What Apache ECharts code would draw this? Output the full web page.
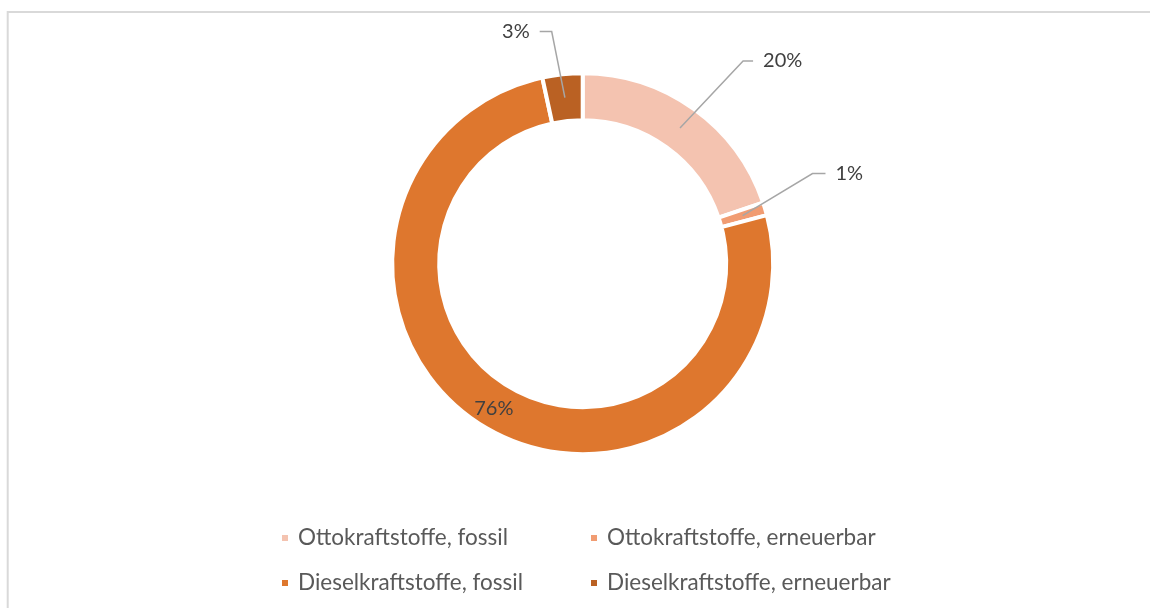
<!DOCTYPE html>
<html>
<head>
<meta charset="utf-8">
<script src="https://cdn.jsdelivr.net/npm/echarts@6/dist/echarts.min.js"></script>
<style>
  html, body { margin: 0; padding: 0; background: #ffffff; }
  #chart { width: 1150px; height: 608px; }
</style>
</head>
<body>
<div id="chart"></div>
<script>
// ---- data ----
const categories = [
  'Ottokraftstoffe, fossil',
  'Ottokraftstoffe, erneuerbar',
  'Dieselkraftstoffe, fossil',
  'Dieselkraftstoffe, erneuerbar'
];
const shares = [19.8, 1.1, 75.7, 3.4];

// ---- styles ----
const colors = ['#F4C3B0', '#F19C72', '#DE772E', '#BA6123'];
const FONT = 'Lato, "Noto Sans", sans-serif';
const LABEL_SIZE = 20;
const LEGEND_SIZE = 22.5;
const OUTER_R = 190.5, INNER_R = 143.5;
const RING_HALF = (OUTER_R - INNER_R) / 2;
const LABEL_DIST = 10;
const CENTER = [582.7, 263.7];
// leader line lengths per slice (radial, horizontal) and label nudges
const lineLen = [[59, 10], [15, 13], [0, 0], [44, 12]];
const nudges = [[15, 0], [33, -31], [0, 0], [-6, 1]];
const insideLabel = [false, false, true, false];

// ring (visible slices)
const ringData = categories.map((name, i) => ({
  name: name,
  value: shares[i],
  itemStyle: { color: colors[i] }
}));

// label layer (transparent slices carrying the data labels, drawn above the ring)
const labelData = categories.map((name, i) => ({
  name: name,
  value: shares[i],
  label: insideLabel[i] ? { position: 'inside' } : { position: 'outside' },
  labelLine: insideLabel[i] ? { show: false } : { show: true, length: lineLen[i][0], length2: lineLen[i][1] }
}));

const legendPos = [[280, 525], [589, 525], [280, 570], [589, 570]];
const legends = categories.map((name, i) => ({
  data: [name],
  left: legendPos[i][0],
  top: legendPos[i][1],
  padding: 0,
  icon: 'path://M0,0H1V1H0Z',
  itemWidth: 16,
  itemHeight: 8,
  selectedMode: false,
  textStyle: { fontFamily: FONT, fontSize: LEGEND_SIZE, color: '#595959', lineHeight: 26 }
}));

const chart = echarts.init(document.getElementById('chart'), null, { renderer: 'canvas' });
chart.setOption({
  animation: false,
  backgroundColor: '#ffffff',
  graphic: [{
    type: 'rect',
    silent: true,
    z: -10,
    shape: { x: 7.7, y: 12, width: 1300, height: 800 },
    style: { fill: 'none', stroke: '#D9D9D9', lineWidth: 2 }
  }],
  legend: legends,
  series: [{
    name: 'ring',
    type: 'pie',
    center: CENTER,
    radius: [INNER_R, OUTER_R],
    startAngle: 90,
    clockwise: true,
    itemStyle: { borderColor: '#ffffff', borderWidth: 4 },
    label: { show: false },
    labelLine: { show: false },
    emphasis: { disabled: true },
    data: ringData
  }, {
    name: 'labels',
    type: 'pie',
    z: 5,
    silent: true,
    center: CENTER,
    radius: [INNER_R, OUTER_R],
    startAngle: 90,
    clockwise: true,
    avoidLabelOverlap: false,
    percentPrecision: 0,
    itemStyle: { color: 'rgba(0,0,0,0)', borderWidth: 0 },
    label: {
      formatter: '{d}%',
      fontFamily: FONT,
      fontSize: LABEL_SIZE,
      color: '#404040',
      distanceToLabelLine: LABEL_DIST
    },
    labelLine: { lineStyle: { color: '#A6A6A6', width: 1.5, opacity: 1 } },
    emphasis: { disabled: true },
    labelLayout: function (p) {
      const pts = p.labelLinePoints;
      if (!pts || pts.length < 3) return {};
      const a = pts[0], b = pts[1], c = pts[2];
      const len = Math.hypot(b[0] - a[0], b[1] - a[1]) || 1;
      const ux = (b[0] - a[0]) / len, uy = (b[1] - a[1]) / len;
      const start = [a[0] - ux * RING_HALF, a[1] - uy * RING_HALF];
      const n = nudges[p.dataIndex] || [0, 0];
      const bend = [b[0] + n[0], b[1] + n[1]];
      const end = [c[0] + n[0], c[1] + n[1]];
      const r = p.labelRect;
      const lx = (p.align === 'right' ? r.x + r.width : r.x) + n[0];
      const ly = r.y + r.height / 2 + n[1];
      return { x: lx, y: ly, labelLinePoints: [start, bend, end] };
    },
    data: labelData
  }]
});
</script>
</body>
</html>
